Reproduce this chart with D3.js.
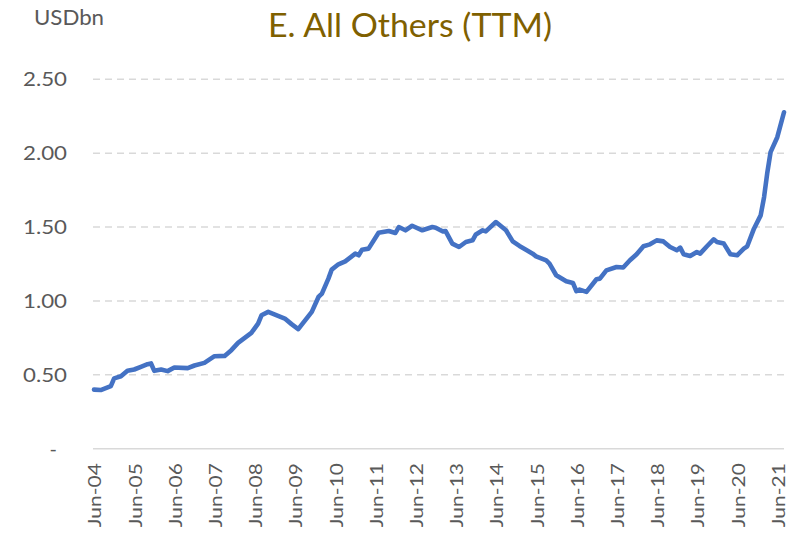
<!DOCTYPE html>
<html><head><meta charset="utf-8">
<script src="https://cdn.jsdelivr.net/npm/d3@7"></script>
<style>
html,body{margin:0;padding:0;background:#fff;}
svg{display:block;font-family:Lato,"Open Sans",sans-serif;}
</style></head>
<body>
<svg id="chart" width="797" height="540"></svg>
<script>
// ---- data ----
const title = "E. All Others (TTM)";
const unitLabel = "USDbn";
const months = ["2004-06","2004-08","2004-11","2004-12","2005-02","2005-04","2005-06","2005-08","2005-10","2005-11","2005-12","2006-02","2006-04","2006-06","2006-10","2006-12","2007-03","2007-06","2007-09","2007-11","2008-01","2008-05","2008-07","2008-08","2008-10","2009-03","2009-05","2009-07","2009-11","2010-01","2010-02","2010-04","2010-05","2010-07","2010-09","2010-12","2011-01","2011-02","2011-04","2011-07","2011-10","2011-12","2012-01","2012-03","2012-05","2012-08","2012-11","2012-12","2013-02","2013-03","2013-05","2013-07","2013-09","2013-11","2013-12","2014-02","2014-03","2014-06","2014-09","2014-11","2015-01","2015-03","2015-05","2015-06","2015-09","2015-10","2015-12","2016-03","2016-05","2016-06","2016-07","2016-09","2016-12","2017-01","2017-03","2017-06","2017-08","2017-10","2017-12","2018-02","2018-04","2018-06","2018-08","2018-10","2018-12","2019-01","2019-02","2019-04","2019-06","2019-07","2019-09","2019-11","2019-12","2020-02","2020-04","2020-06","2020-08","2020-09","2020-11","2021-01","2021-02","2021-03","2021-04","2021-06","2021-08"];
const values = [0.400,0.397,0.424,0.476,0.490,0.527,0.536,0.554,0.572,0.577,0.527,0.536,0.525,0.550,0.545,0.563,0.581,0.626,0.628,0.667,0.716,0.784,0.847,0.903,0.926,0.881,0.843,0.809,0.926,1.027,1.050,1.151,1.212,1.248,1.268,1.320,1.309,1.347,1.354,1.462,1.473,1.460,1.500,1.478,1.509,1.478,1.500,1.496,1.471,1.473,1.388,1.365,1.399,1.410,1.450,1.478,1.471,1.534,1.478,1.403,1.372,1.347,1.320,1.302,1.275,1.253,1.174,1.133,1.122,1.066,1.077,1.061,1.147,1.151,1.207,1.230,1.226,1.275,1.316,1.370,1.383,1.410,1.403,1.365,1.343,1.361,1.316,1.304,1.331,1.320,1.370,1.417,1.399,1.388,1.316,1.309,1.354,1.370,1.489,1.579,1.703,1.861,2.007,2.108,2.277];
const yTicks = [0,0.5,1.0,1.5,2.0,2.5];
const xTickYears = [2004,2005,2006,2007,2008,2009,2010,2011,2012,2013,2014,2015,2016,2017,2018,2019,2020,2021];

// ---- layout ----
const parse = d3.timeParse("%Y-%m");
const data = months.map((m,i)=>({date:parse(m), value:values[i]}));
const svg = d3.select("#chart");
const x = d3.scaleTime().domain([parse("2004-06"), parse("2021-08")]).range([94, 784]);
const y = d3.scaleLinear().domain([0, 2.5]).range([448.7, 79.3]);

// gridlines
svg.append("g").selectAll("line").data(yTicks.filter(d=>d>0)).join("line")
  .attr("x1", 93).attr("x2", 784)
  .attr("y1", d=>y(d)).attr("y2", d=>y(d))
  .attr("stroke", "#D9D9D9").attr("stroke-width", 1.6)
  .attr("stroke-dasharray", "7,5");

// y axis labels
const yAxis = d3.axisLeft(y).tickValues(yTicks)
  .tickFormat(d => d === 0 ? "-" : d3.format(".2f")(d))
  .tickSize(0).tickPadding(0);
const gy = svg.append("g").attr("transform", "translate(67,0)").call(yAxis);
gy.select(".domain").remove();
gy.selectAll("text").attr("font-size", 20).attr("fill", "#595959")
  .attr("font-family", "Lato, sans-serif");
gy.selectAll(".tick").filter(d=>d!==0).select("text")
  .attr("textLength", 44).attr("lengthAdjust", "spacingAndGlyphs");
gy.selectAll(".tick").filter(d=>d===0).select("text").attr("dx", -10);

// x axis
const xAxis = d3.axisBottom(x)
  .tickValues(xTickYears.map(yr => new Date(yr, 5, 1)))
  .tickFormat(d3.timeFormat("Jun-%y"))
  .tickSize(0).tickPadding(0);
const gx = svg.append("g").attr("transform", `translate(0,${y(0)})`).call(xAxis);
gx.select(".domain").attr("d", "M93,0H784").attr("stroke", "#D9D9D9").attr("stroke-width", 1.6);
gx.selectAll("text")
  .attr("font-size", 17).attr("fill", "#595959").attr("font-family", "Lato, sans-serif")
  .attr("text-anchor", "end")
  .attr("transform", "rotate(-90)")
  .attr("x", -14.5).attr("y", 1).attr("dy", "0.35em")
  .attr("textLength", 64).attr("lengthAdjust", "spacingAndGlyphs");

// line
const line = d3.line().x(d=>x(d.date)).y(d=>y(d.value)).curve(d3.curveLinear);
svg.append("path").datum(data).attr("d", line)
  .attr("fill", "none").attr("stroke", "#4472C4").attr("stroke-width", 4.6)
  .attr("stroke-linejoin", "round").attr("stroke-linecap", "round");

// titles
svg.append("text").attr("x", 410).attr("y", 37.3).attr("text-anchor", "middle")
  .attr("font-size", 32).attr("fill", "#7F6000")
  .attr("textLength", 284).attr("lengthAdjust", "spacingAndGlyphs").text(title);
svg.append("text").attr("x", 34).attr("y", 25)
  .attr("font-size", 21).attr("fill", "#595959")
  .attr("textLength", 70).attr("lengthAdjust", "spacingAndGlyphs").text(unitLabel);
</script>
</body></html>
